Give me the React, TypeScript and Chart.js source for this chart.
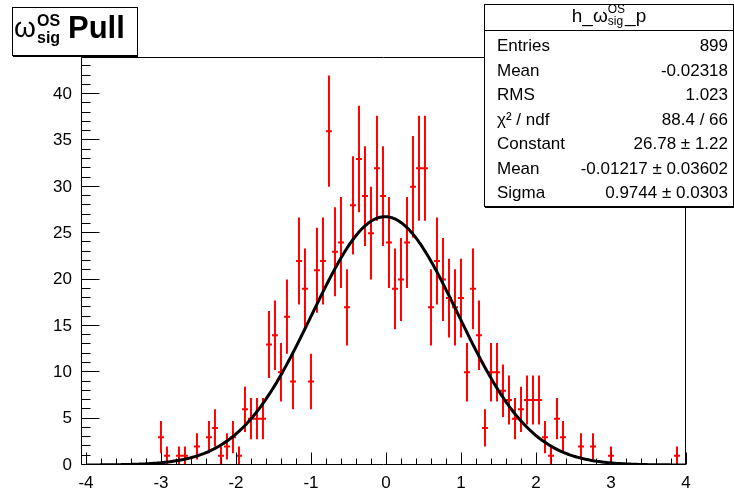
import React, { useEffect, useRef } from "react";
import { Chart, registerables } from "chart.js";

Chart.register(...registerables);

// ---- data ----
const BIN_LOW = -4;
const BIN_WIDTH = 0.08;
const BIN_COUNTS = [
  0, 0, 0, 0, 0, 0, 0, 0, 0, 0,
  0, 0, 3, 1, 0, 1, 1, 0, 2, 0,
  3, 4, 1, 2, 3, 1, 6, 5, 5, 5,
  13, 14, 10, 16, 9, 22, 19, 9, 21, 22,
  36, 23, 24, 17, 28, 33, 29, 25, 32, 29,
  24, 19, 20, 24, 30, 32, 32, 17, 22, 20,
  18, 17, 18, 10, 19, 14, 4, 10, 10, 8,
  7, 5, 6, 7, 7, 7, 3, 1, 5, 3,
  0, 0, 2, 0, 2, 0, 0, 1, 0, 0,
  0, 0, 0, 0, 0, 0, 0, 0, 1, 0,
];
const X_TICKS = [-4, -3, -2, -1, 0, 1, 2, 3, 4];
const Y_TICKS = [0, 5, 10, 15, 20, 25, 30, 35, 40];
const X_MIN = -4.066;
const X_MAX = 4;
const Y_MIN = 0;
const Y_MAX = 44;

// fit result shown in the stats box
const FIT_CONSTANT = 26.78;
const FIT_MEAN = -0.01217;
const FIT_SIGMA = 0.9744;
const FIT_RANGE = [-4, 4];
const FIT_STEP = 0.02;

const STAT_LABELS = ["Entries", "Mean", "RMS", "χ² / ndf", "Constant", "Mean", "Sigma"];
const STAT_VALUES = ["899", "-0.02318", "1.023", "88.4 / 66", "26.78 ± 1.22", "-0.01217 ± 0.03602", "0.9744 ± 0.0303"];

const FONT = '"Liberation Sans", Arial, Helvetica, sans-serif';

function fitPoints() {
  const pts: { x: number; y: number }[] = [];
  const n = Math.round((FIT_RANGE[1] - FIT_RANGE[0]) / FIT_STEP);
  for (let k = 0; k <= n; k++) {
    const x = FIT_RANGE[0] + k * FIT_STEP;
    const z = (x - FIT_MEAN) / FIT_SIGMA;
    pts.push({ x, y: FIT_CONSTANT * Math.exp(-0.5 * z * z) });
  }
  return pts;
}

const decoPlugin = {
  id: "rootDeco",
  afterDatasetsDraw(chart: any) {
    const { ctx, chartArea: a, scales } = chart;
    const xs = scales.x;
    const ys = scales.y;
    ctx.save();
    ctx.strokeStyle = "#000";
    ctx.lineWidth = 1;
    const L = Math.round(a.left) + 0.5;
    const R = Math.round(a.right) - 0.5;
    const T = Math.round(a.top) + 0.5;
    const B = Math.round(a.bottom) - 0.5;
    ctx.beginPath();
    ctx.rect(L, T, R - L, B - T);
    ctx.stroke();
    // x ticks (inward)
    ctx.beginPath();
    for (let k = 0; k <= 40; k++) {
      const v = -4 + k * 0.2;
      const px = Math.round(xs.getPixelForValue(v)) + 0.5;
      const len = k % 5 === 0 ? 12 : 6;
      ctx.moveTo(px, B);
      ctx.lineTo(px, B - len);
    }
    // y ticks (inward)
    for (let v = 0; v <= 44; v++) {
      const py = Math.round(ys.getPixelForValue(v)) - 0.5;
      const len = v % 5 === 0 ? 18 : 9;
      ctx.moveTo(L, py);
      ctx.lineTo(L + len, py);
    }
    ctx.stroke();
    ctx.restore();
  },
  afterDraw(chart: any) {
    const ctx = chart.ctx as CanvasRenderingContext2D;
    ctx.save();
    ctx.fillStyle = "#000";
    ctx.strokeStyle = "#000";
    ctx.lineWidth = 1;
    ctx.textBaseline = "alphabetic";

    // ---- title box ----
    ctx.fillStyle = "#fff";
    ctx.fillRect(12, 7, 126, 49);
    ctx.fillStyle = "#000";
    ctx.strokeRect(12.5, 7.5, 125, 48);
    ctx.fillRect(13, 55, 125, 2);
    ctx.font = `28px ${FONT}`;
    ctx.fillText("ω", 14, 37);
    ctx.font = `bold 16px ${FONT}`;
    ctx.fillText("OS", 37, 26);
    ctx.fillText("sig", 37, 43);
    ctx.font = `bold 31px ${FONT}`;
    ctx.fillText("Pull", 68, 38);

    // ---- stats box ----
    const bx = 484, by = 4, bw = 250, bh = 203;
    ctx.fillStyle = "#fff";
    ctx.fillRect(bx, by, bw, bh);
    ctx.fillStyle = "#000";
    ctx.strokeRect(bx + 0.5, by + 0.5, bw - 1, bh - 1);
    ctx.fillRect(bx + 1, by + bh - 1, bw - 1, 2);
    ctx.beginPath();
    ctx.moveTo(bx, 30.5);
    ctx.lineTo(bx + bw, 30.5);
    ctx.stroke();

    // header  h_ω^{OS}_{sig}_p
    const big = `19px ${FONT}`;
    const small = `12px ${FONT}`;
    ctx.font = big;
    const w1 = ctx.measureText("h_").width;
    const w2 = ctx.measureText("ω").width;
    const w4 = ctx.measureText("_p").width;
    ctx.font = small;
    const w3 = Math.max(ctx.measureText("OS").width, ctx.measureText("sig").width);
    const total = w1 + w2 + w3 + w4;
    let hx = 609 - total / 2;
    const hb = 22;
    ctx.font = big;
    ctx.fillText("h_", hx, hb);
    hx += w1;
    ctx.fillText("ω", hx, hb);
    hx += w2;
    ctx.font = small;
    ctx.fillText("OS", hx, hb - 9);
    ctx.fillText("sig", hx, hb + 3);
    hx += w3;
    ctx.font = big;
    ctx.fillText("_p", hx, hb);

    ctx.font = `17px ${FONT}`;
    for (let i = 0; i < STAT_LABELS.length; i++) {
      const yy = 51 + i * 24.5;
      ctx.textAlign = "left";
      ctx.fillText(STAT_LABELS[i], 497, yy);
      ctx.textAlign = "right";
      ctx.fillText(STAT_VALUES[i], 728, yy);
    }
    ctx.restore();
  },
};

export default function App() {
  const ref = useRef<HTMLCanvasElement>(null);
  useEffect(() => {
    const canvas = ref.current;
    if (!canvas) return;
    const vBars: any[] = [];
    const hBars: any[] = [];
    BIN_COUNTS.forEach((n, i) => {
      if (n <= 0) return;
      const xc = BIN_LOW + BIN_WIDTH * (i + 0.5);
      const e = Math.sqrt(n);
      vBars.push({ x: xc, y: n - e }, { x: xc, y: n + e }, { x: xc, y: null });
      hBars.push({ x: xc - BIN_WIDTH / 2, y: n }, { x: xc + BIN_WIDTH / 2, y: n }, { x: xc, y: null });
    });
    const chart = new Chart(canvas, {
      type: "line",
      data: {
        datasets: [
          {
            label: "fit",
            data: fitPoints(),
            borderColor: "#000",
            borderWidth: 3,
            pointRadius: 0,
            tension: 0,
            order: 0,
          },
          {
            label: "err",
            data: vBars,
            borderColor: "#ff0000",
            borderWidth: 2,
            pointRadius: 0,
            spanGaps: false,
            order: 1,
          },
          {
            label: "mark",
            data: hBars,
            borderColor: "#ff0000",
            borderWidth: 2,
            pointRadius: 0,
            spanGaps: false,
            order: 1,
          },
        ],
      },
      options: {
        animation: false,
        responsive: false,
        devicePixelRatio: 1,
        events: [],
        layout: { padding: { left: 0, top: 57, right: 48, bottom: 0 } },
        plugins: { legend: { display: false }, tooltip: { enabled: false }, title: { display: false } },
        scales: {
          x: {
            type: "linear",
            min: X_MIN,
            max: X_MAX,
            grid: { display: false, drawTicks: false },
            border: { display: false },
            afterBuildTicks: (s: any) => {
              s.ticks = X_TICKS.map((v) => ({ value: v }));
            },
            afterFit: (s: any) => {
              s.height = 29;
            },
            ticks: {
              autoSkip: false,
              maxRotation: 0,
              padding: 8,
              color: "#000",
              font: { family: FONT, size: 17 },
              callback: (v: any) => String(v),
            },
          },
          y: {
            type: "linear",
            min: Y_MIN,
            max: Y_MAX,
            grid: { display: false, drawTicks: false },
            border: { display: false },
            afterBuildTicks: (s: any) => {
              s.ticks = Y_TICKS.map((v) => ({ value: v }));
            },
            afterFit: (s: any) => {
              s.width = 81;
            },
            ticks: {
              autoSkip: false,
              padding: 9,
              color: "#000",
              font: { family: FONT, size: 17 },
              callback: (v: any) => String(v),
            },
          },
        },
      },
      plugins: [decoPlugin],
    } as any);
    return () => chart.destroy();
  }, []);
  return (
    <div style={{ position: "fixed", left: 0, top: 0, width: 734, height: 494, background: "#fff" }}>
      <canvas ref={ref} width={734} height={494} style={{ width: 734, height: 494, display: "block" }} />
    </div>
  );
}
